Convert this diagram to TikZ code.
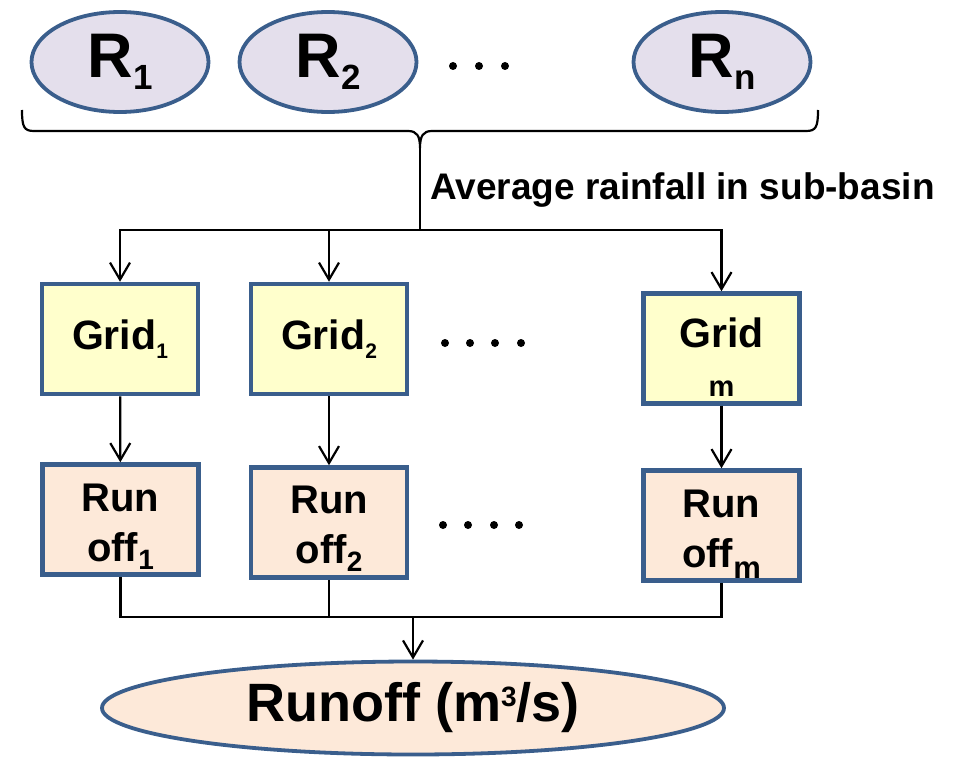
\documentclass[tikz,border=0pt]{standalone}
\usepackage{fontspec}
\setmainfont{Liberation Sans}
\usetikzlibrary{shapes.geometric,arrows.meta}
\definecolor{bordc}{HTML}{3A5E8C}
\definecolor{rfill}{HTML}{E4DFEC}
\definecolor{gfill}{HTML}{FFFFCC}
\definecolor{ofill}{HTML}{FDE9D9}
\newcommand\lowsub[3]{\raisebox{-#1pt}{\fontsize{#2}{#2}\selectfont #3}}
\newcommand\zbox[2]{\makebox[0pt]{\raisebox{#1pt}[0pt][0pt]{#2}}}
\tikzset{
  rain/.style={ellipse, draw=bordc, line width=3.8pt, fill=rfill, minimum width=177pt, minimum height=100pt, inner sep=0pt, font=\fontsize{63}{63}\selectfont\bfseries},
  gridbox/.style={rectangle, draw=bordc, line width=4.5pt, fill=gfill, minimum width=156pt, minimum height=110pt, inner sep=0pt, font=\fontsize{41}{41}\selectfont\bfseries},
  offbox/.style={rectangle, draw=bordc, line width=4.5pt, fill=ofill, minimum width=156pt, minimum height=110pt, inner sep=0pt, font=\fontsize{40}{40}\selectfont\bfseries},
  total/.style={ellipse, draw=bordc, line width=3.8pt, fill=ofill, minimum width=622pt, minimum height=93pt, inner sep=0pt, font=\fontsize{54}{54}\selectfont\bfseries},
  conn/.style={line width=2.2pt, black},
  arr/.style={conn, -{Straight Barb[length=17pt,width=20pt,line width=2.2pt]}},
  dotc/.style={fill=black, draw=none}
}
\begin{document}
\begin{tikzpicture}[x=1pt,y=-1pt]
\useasboundingbox (0,0) rectangle (957,757);
% rainfall stations
\node[rain] (r1) at (120,62) {R\lowsub{12}{35}{1}};
\node[rain] (r2) at (328,62) {R\lowsub{12}{35}{2}};
\node[rain] (rn) at (722,62) {R\lowsub{12}{35}{n}};
\foreach \x in {453,479,505} \fill[dotc] (\x,66) circle (4);
% brace
\coordinate (bl) at (22,110);
\coordinate (br) at (818,110);
\coordinate (btip) at (420,148);
\draw[conn] (bl) .. controls (22,127) and (24,131) .. (34,131) -- (408,131)
  .. controls (417,131) and (420,136) .. (btip)
  .. controls (420,136) and (423,131) .. (432,131) -- (806,131)
  .. controls (816,131) and (818,127) .. (br);
\node[anchor=base west, inner sep=0pt, font=\fontsize{37}{37}\selectfont\bfseries] (avg) at (430,199) {Average rainfall in sub-basin};
\coordinate (split) at (420,230);
\draw[conn] (btip) -- (split);
% grids
\node[gridbox] (g1) at (120,339) {Grid\lowsub{9}{21}{1}};
\node[gridbox] (g2) at (329,339) {Grid\lowsub{9}{21}{2}};
\node[gridbox] (gm) at (721.5,348.5) {\zbox{1.5}{Grid}\zbox{-47.5}{\fontsize{29}{29}\selectfont m}};
\foreach \x in {445,470,495,521} \fill[dotc] (\x,343) circle (4);
\draw[arr] (split) -| (g1.north);
\draw[arr] (split) -| (g2.north);
\draw[arr] (split) -| (gm.north);
% runoff boxes
\node[offbox] (o1) at (120.5,519.5) {\zbox{8.5}{Run}\zbox{-41.5}{off\lowsub{8}{28}{1}}};
\node[offbox] (o2) at (329,522.5) {\zbox{9.5}{Run}\zbox{-40.5}{off\lowsub{8}{28}{2}}};
\node[offbox] (om) at (721.5,525.5) {\zbox{8.5}{Run}\zbox{-41.5}{off\lowsub{11}{31}{m}}};
\foreach \x in {443,468,494,519} \fill[dotc] (\x,525) circle (4);
\draw[arr] (g1) -- (o1);
\draw[arr] (g2) -- (o2);
\draw[arr] (gm) -- (om);
% total
\node[total] (tot) at (413,708) {Runoff (m\raisebox{15pt}{\fontsize{28}{28}\selectfont 3}/s)};
\coordinate (join) at (413,617);
\draw[conn] (o1.south) |- (join);
\draw[conn] (o2.south) |- (join);
\draw[conn] (om.south) |- (join);
\draw[arr] (join) -- (tot.north);
\end{tikzpicture}
\end{document}
